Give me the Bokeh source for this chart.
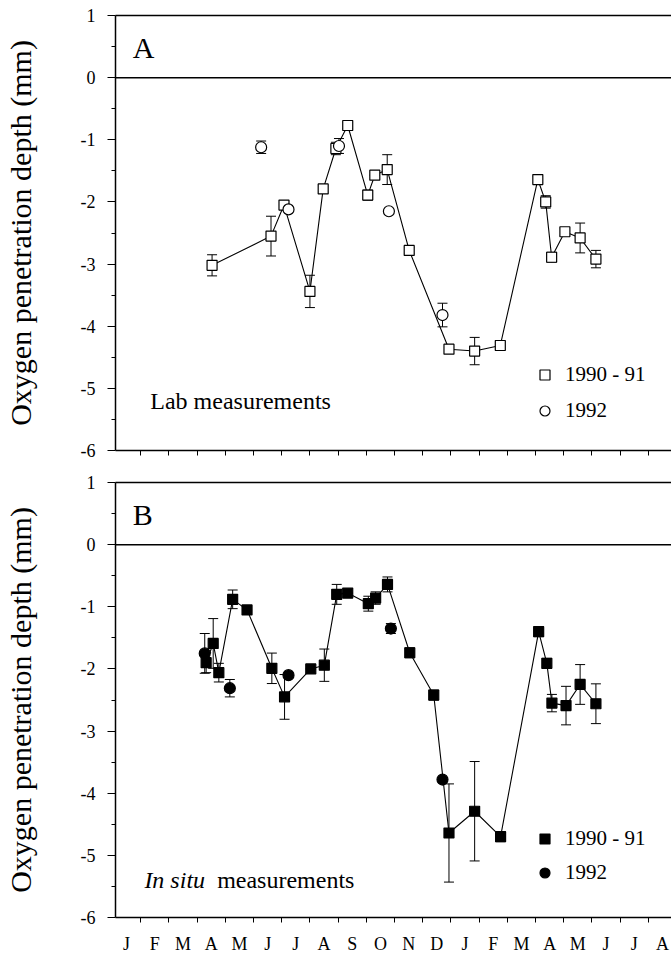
from bokeh.plotting import figure
from bokeh.models import (ColumnDataSource, Range1d, FixedTicker, LinearAxis, Whisker,
                          TeeHead, Span, Label, Legend, LegendItem)
from bokeh.layouts import column
from bokeh.embed import file_html
from bokeh.resources import INLINE

# month letters, Jan 1990 .. Aug 1991 (x = months since 1 Jan 1990)
months = ["J", "F", "M", "A", "M", "J", "J", "A", "S", "O", "N", "D",
          "J", "F", "M", "A", "M", "J", "J", "A"]

# A: lab measurements
lab_9091_month = [3.53, 5.62, 6.08, 7.00, 7.47, 7.92, 8.34, 9.05, 9.30, 9.74,
                  10.52, 11.93, 12.84, 13.75, 15.08, 15.36, 15.57, 16.04, 16.58, 17.14]
lab_9091_depth = [-3.02, -2.55, -2.05, -3.44, -1.79, -1.14, -0.77, -1.89, -1.57, -1.48,
                  -2.78, -4.37, -4.40, -4.31, -1.64, -2.00, -2.89, -2.48, -2.58, -2.92]
lab_9091_err = [0.17, 0.32, 0.0, 0.26, 0.05, 0.10, 0.05, 0.08, 0.0, 0.24,
                0.05, 0.03, 0.22, 0.07, 0.05, 0.10, 0.08, 0.06, 0.24, 0.14]
lab_1992_month = [5.27, 6.24, 8.03, 9.80, 11.70]
lab_1992_depth = [-1.12, -2.12, -1.10, -2.15, -3.82]
lab_1992_err = [0.10, 0.0, 0.12, 0.0, 0.19]

# B: in situ measurements
insitu_9091_month = [3.32, 3.57, 3.77, 4.26, 4.77, 5.65, 6.10, 7.03, 7.51, 7.95, 8.34, 9.07,
                     9.33, 9.75, 10.54, 11.39, 11.93, 12.84, 13.76, 15.11, 15.40, 15.58,
                     16.08, 16.58, 17.14]
insitu_9091_depth = [-1.90, -1.59, -2.06, -0.88, -1.05, -1.99, -2.45, -2.00, -1.94, -0.80,
                     -0.78, -0.95, -0.86, -0.64, -1.74, -2.42, -4.64, -4.29, -4.70, -1.40,
                     -1.91, -2.55, -2.59, -2.25, -2.56]
insitu_9091_err = [0.16, 0.40, 0.15, 0.15, 0.0, 0.245, 0.36, 0.0, 0.26, 0.16, 0.0, 0.12,
                   0.10, 0.12, 0.08, 0.08, 0.79, 0.80, 0.08, 0.08, 0.08, 0.14, 0.31, 0.32, 0.32]
insitu_1992_month = [3.27, 4.16, 6.24, 9.87, 11.70]
insitu_1992_depth = [-1.75, -2.31, -2.10, -1.35, -3.78]
insitu_1992_err = [0.32, 0.14, 0.0, 0.08, 0.0]

y_ticks = list(range(-6, 2))

FONT = "Liberation Serif"


def make_source(x, y, err):
    return ColumnDataSource(dict(x=x, y=y,
                                 upper=[a + e for a, e in zip(y, err)],
                                 lower=[a - e for a, e in zip(y, err)]))


def make_panel(sq, ci, filled, letter, height, border_top, border_bottom,
               show_months, legend_y, legend_spacing):
    p = figure(width=671, height=height, output_backend="svg", toolbar_location=None,
               x_range=Range1d(0.106, 19.82), y_range=Range1d(-6, 1),
               min_border_left=113, min_border_right=0,
               min_border_top=border_top, min_border_bottom=border_bottom)
    p.outline_line_color = None
    p.grid.visible = False

    # y axis
    p.yaxis.ticker = FixedTicker(ticks=y_ticks, minor_ticks=[v + 0.5 for v in y_ticks[:-1]])
    p.yaxis.major_label_overrides = {v: str(v) for v in y_ticks}
    p.yaxis.axis_label = "Oxygen penetration depth (mm)"
    p.yaxis.axis_label_text_font = FONT
    p.yaxis.axis_label_text_font_size = "30px"
    p.yaxis.axis_label_text_font_style = "normal"
    p.yaxis.axis_label_text_color = "black"
    p.yaxis.axis_label_standoff = 41
    p.yaxis.major_label_text_font = FONT
    p.yaxis.major_label_text_font_size = "18px"
    p.yaxis.major_label_text_color = "black"
    p.yaxis.major_label_standoff = 12
    p.yaxis.major_tick_out = 8
    p.yaxis.major_tick_in = 0
    p.yaxis.minor_tick_out = 4
    p.yaxis.minor_tick_in = 0
    p.yaxis.axis_line_width = 1.5

    # x axis: month boundaries as minor ticks, letters centred on months
    bounds = list(range(len(months) + 1))
    if show_months:
        p.xaxis.ticker = FixedTicker(ticks=[k + 0.5 for k in range(len(months))],
                                     minor_ticks=bounds)
        p.xaxis.major_label_overrides = {k + 0.5: m for k, m in enumerate(months)}
        p.xaxis.major_label_text_font = FONT
        p.xaxis.major_label_text_font_size = "18px"
        p.xaxis.major_label_text_color = "black"
        p.xaxis.major_label_standoff = 11
    else:
        p.xaxis.ticker = FixedTicker(ticks=[], minor_ticks=bounds)
        p.xaxis.major_label_standoff = 0
    p.xaxis.major_tick_out = 0
    p.xaxis.major_tick_in = 0
    p.xaxis.minor_tick_out = 5
    p.xaxis.minor_tick_in = 0
    p.xaxis.axis_line_width = 1.5

    top = LinearAxis(ticker=FixedTicker(ticks=[]), major_tick_out=0, minor_tick_out=0,
                     major_label_standoff=0, axis_line_width=1.5)
    p.add_layout(top, "above")

    p.add_layout(Span(location=0, dimension="width", line_color="black", line_width=1.5))

    fill = "black" if filled else "white"
    sq_src = make_source(*sq)
    ci_src = make_source(*ci)
    for src in (sq_src, ci_src):
        p.add_layout(Whisker(base="x", upper="upper", lower="lower", source=src,
                             line_width=1,
                             upper_head=TeeHead(size=10, line_width=1),
                             lower_head=TeeHead(size=10, line_width=1)))
    p.line("x", "y", source=sq_src, line_color="black", line_width=1.1)
    r_sq = p.scatter("x", "y", source=sq_src, marker="square", size=10,
                     fill_color=fill, line_color="black", line_width=1.2)
    r_ci = p.scatter("x", "y", source=ci_src, marker="circle", size=11,
                     fill_color=fill, line_color="black", line_width=1.2)

    legend = Legend(items=[LegendItem(label="1990 - 91", renderers=[r_sq]),
                           LegendItem(label="1992", renderers=[r_ci])],
                    location=(417, legend_y), border_line_color=None,
                    background_fill_alpha=0, padding=0, margin=0,
                    glyph_width=25, glyph_height=25, label_height=25,
                    spacing=legend_spacing, label_standoff=8,
                    label_text_font=FONT, label_text_font_size="21px",
                    label_text_color="black")
    p.add_layout(legend)

    p.add_layout(Label(x=0.72, y=0.48, text=letter, text_font=FONT, text_color="black",
                       text_font_size="30px", text_baseline="middle"))
    return p


pa = make_panel((lab_9091_month, lab_9091_depth, lab_9091_err),
                (lab_1992_month, lab_1992_depth, lab_1992_err),
                False, "A", 470, 15, 20, False, 27, 11)
pa.add_layout(Label(x=1.34, y=-5.21, text="Lab measurements", text_font=FONT,
                    text_color="black", text_font_size="24px",
                    text_baseline="middle"))

pb = make_panel((insitu_9091_month, insitu_9091_depth, insitu_9091_err),
                (insitu_1992_month, insitu_1992_depth, insitu_1992_err),
                True, "B", 487, 12, 40, True, 32, 9)
pb.add_layout(Label(x=1.13, y=-5.40, text="In situ", text_font=FONT, text_color="black",
                    text_font_size="24px", text_font_style="italic",
                    text_baseline="middle"))
pb.add_layout(Label(x=3.71, y=-5.40, text="measurements", text_font=FONT,
                    text_color="black", text_font_size="24px",
                    text_baseline="middle"))

layout = column(pa, pb)
open("out.html", "w").write(file_html(layout, INLINE))
